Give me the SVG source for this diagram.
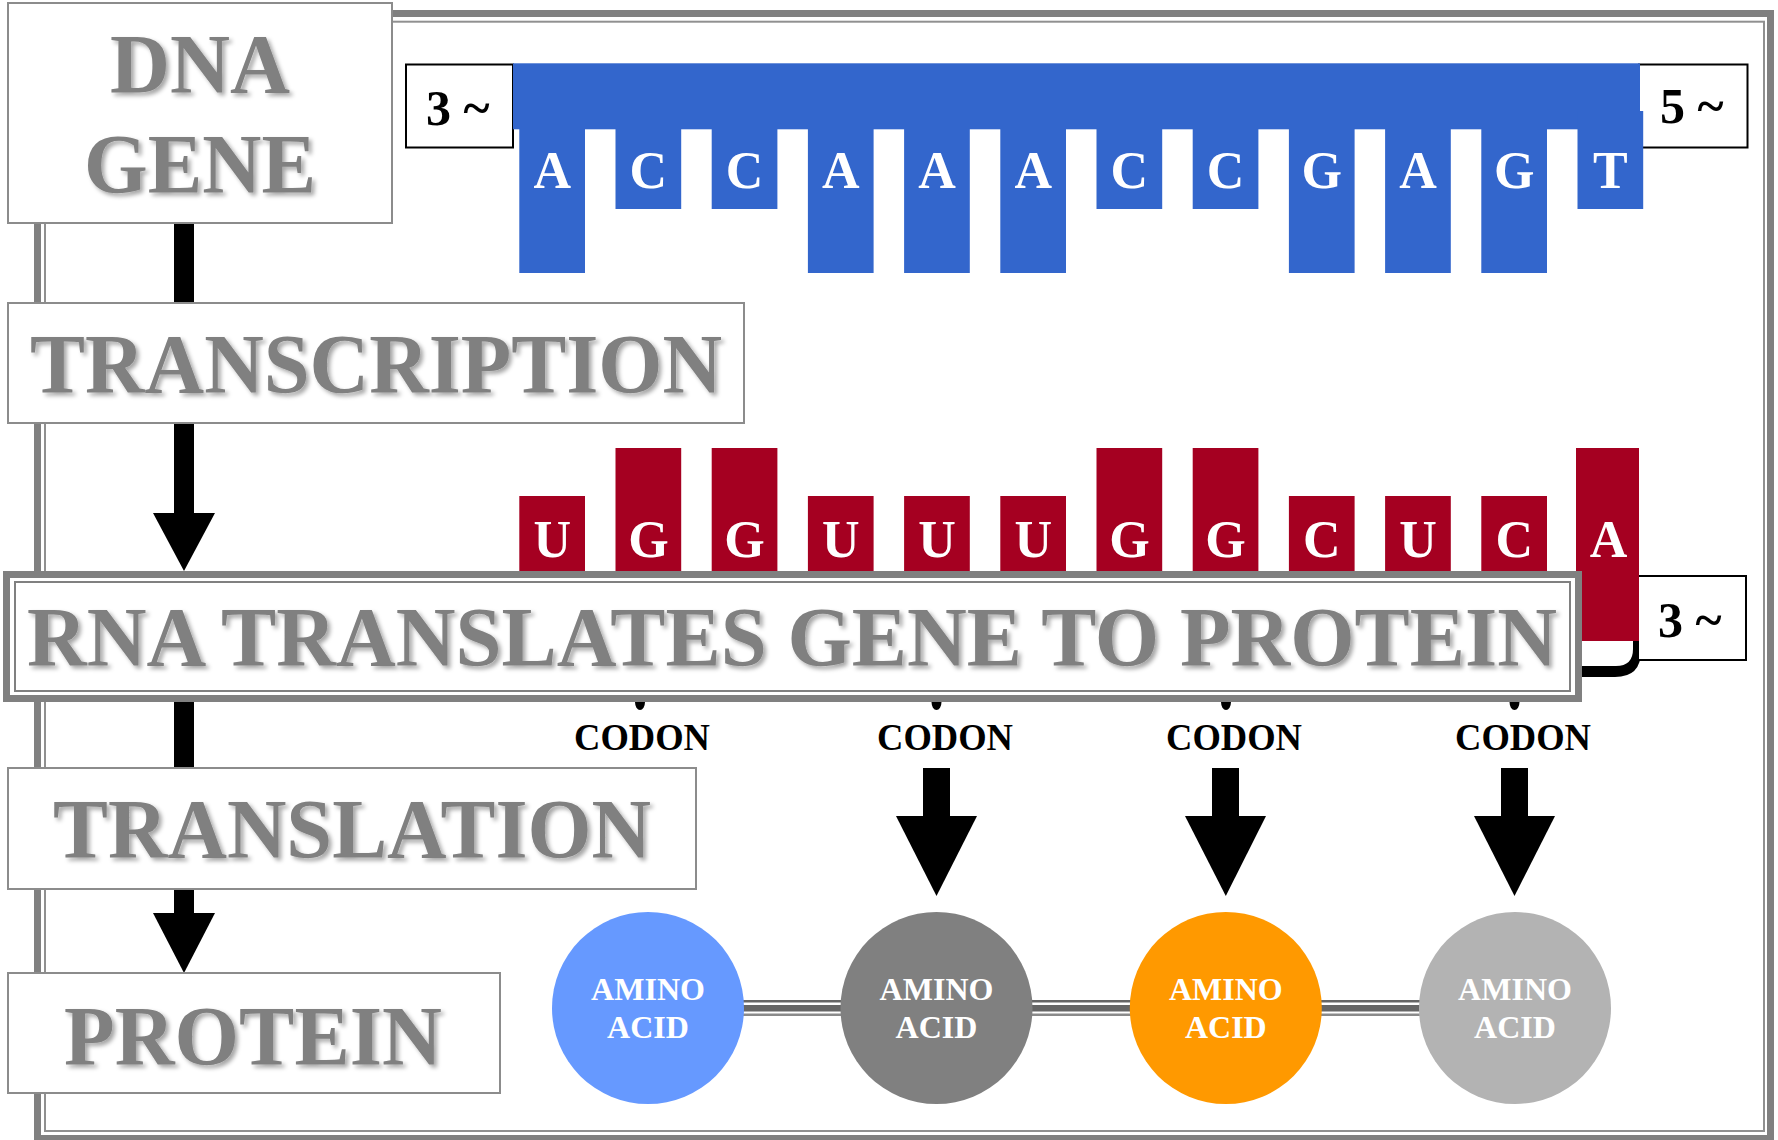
<svg xmlns="http://www.w3.org/2000/svg" width="1778" height="1140" viewBox="0 0 1778 1140">
<defs>
<style>
.big{font-family:"Liberation Serif","Times New Roman",serif;font-weight:bold;font-size:85px;fill:#808080;text-anchor:middle;filter:url(#sh)}
.box{fill:#fff;stroke:#8c8c8c;stroke-width:2}
.lbl{font-family:"Liberation Serif","Times New Roman",serif;font-weight:bold;font-size:50px;fill:#000}
.base{font-family:"Liberation Serif","Times New Roman",serif;font-weight:bold;font-size:52px;fill:#fff;text-anchor:middle}
.codon{font-family:"Liberation Serif","Times New Roman",serif;font-weight:bold;font-size:37px;fill:#000;text-anchor:middle}
.aa{font-family:"Liberation Serif","Times New Roman",serif;font-weight:bold;font-size:32px;fill:#fff;text-anchor:middle}
.dna{fill:#3366cc}
.rna{fill:#a50021}
.endbox{fill:#fff;stroke:#000;stroke-width:2}
</style>
<filter id="sh" x="-5%" y="-20%" width="110%" height="150%">
<feDropShadow dx="3" dy="3" stdDeviation="2" flood-color="#000" flood-opacity="0.35"/>
</filter>
</defs>
<rect width="1778" height="1140" fill="#fff"/>
<!-- outer frame -->
<g id="frame">
<rect x="37.5" y="13.5" width="1733" height="1125" fill="none" stroke="#808080" stroke-width="7"/>
<rect x="45" y="21.7" width="1719" height="1109.3" fill="none" stroke="#909090" stroke-width="2"/>
</g>
<!-- connectors -->
<g id="connectors">
<rect x="174" y="220" width="20" height="86" fill="#000"/>
<rect x="174" y="420" width="20" height="94" fill="#000"/>
<polygon points="153,513 215,513 184,571" fill="#000"/>
<rect x="174" y="700" width="20" height="70" fill="#000"/>
<rect x="174" y="886" width="20" height="28" fill="#000"/>
<polygon points="153,913 215,913 184,973" fill="#000"/>
<rect x="923" y="768" width="27" height="49" fill="#000"/>
<polygon points="896,816 977,816 936.5,896" fill="#000"/>
<rect x="1212" y="768" width="27" height="49" fill="#000"/>
<polygon points="1185,816 1266,816 1225.8,896" fill="#000"/>
<rect x="1501" y="768" width="27" height="49" fill="#000"/>
<polygon points="1474,816 1555,816 1514.5,896" fill="#000"/>
<g id="peptide-bonds">
<rect x="700" y="1000" width="860" height="2.5" fill="#666"/>
<rect x="700" y="1005" width="860" height="6.5" fill="#666"/>
<rect x="700" y="1013.5" width="860" height="2.5" fill="#8a8a8a"/>
</g>
</g>
<!-- DNA strand -->
<g id="dna-strand">
<rect class="endbox" x="406" y="64.5" width="107" height="83"/>
<text class="lbl" x="426" y="125">3 ~</text>
<rect class="endbox" x="1639" y="64.5" width="108.5" height="83"/>
<text class="lbl" x="1660" y="123">5 ~</text>
<rect class="dna" x="513" y="63.3" width="1127" height="66"/>
<rect class="dna" x="1577.5" y="111" width="65.7" height="98"/>
<rect class="dna" x="519.3" y="128" width="65.7" height="145"/>
<rect class="dna" x="615.5" y="128" width="65.7" height="81"/>
<rect class="dna" x="711.7" y="128" width="65.7" height="81"/>
<rect class="dna" x="807.9" y="128" width="65.7" height="145"/>
<rect class="dna" x="904.1" y="128" width="65.7" height="145"/>
<rect class="dna" x="1000.3" y="128" width="65.7" height="145"/>
<rect class="dna" x="1096.5" y="128" width="65.7" height="81"/>
<rect class="dna" x="1192.7" y="128" width="65.7" height="81"/>
<rect class="dna" x="1288.9" y="128" width="65.7" height="145"/>
<rect class="dna" x="1385.1" y="128" width="65.7" height="145"/>
<rect class="dna" x="1481.3" y="128" width="65.7" height="145"/>
<text class="base" x="552.2" y="188">A</text>
<text class="base" x="648.4" y="188">C</text>
<text class="base" x="744.6" y="188">C</text>
<text class="base" x="840.8" y="188">A</text>
<text class="base" x="937" y="188">A</text>
<text class="base" x="1033.2" y="188">A</text>
<text class="base" x="1129.4" y="188">C</text>
<text class="base" x="1225.6" y="188">C</text>
<text class="base" x="1321.8" y="188">G</text>
<text class="base" x="1418" y="188">A</text>
<text class="base" x="1514.2" y="188">G</text>
<text class="base" x="1610.4" y="188">T</text>
</g>
<!-- RNA strand -->
<g id="rna-strand">
<path d="M1582,677 H1615 Q1641,677 1641,651 V641 H1633 V649 Q1633,666 1616,666 H1582 Z" fill="#000"/>
<rect class="rna" x="519.3" y="496" width="65.7" height="145"/>
<rect class="rna" x="615.5" y="448" width="65.7" height="193"/>
<rect class="rna" x="711.7" y="448" width="65.7" height="193"/>
<rect class="rna" x="807.9" y="496" width="65.7" height="145"/>
<rect class="rna" x="904.1" y="496" width="65.7" height="145"/>
<rect class="rna" x="1000.3" y="496" width="65.7" height="145"/>
<rect class="rna" x="1096.5" y="448" width="65.7" height="193"/>
<rect class="rna" x="1192.7" y="448" width="65.7" height="193"/>
<rect class="rna" x="1288.9" y="496" width="65.7" height="145"/>
<rect class="rna" x="1385.1" y="496" width="65.7" height="145"/>
<rect class="rna" x="1481.3" y="496" width="65.7" height="145"/>
<rect class="endbox" x="1638" y="576" width="108" height="84"/>
<rect class="rna" x="1576" y="448" width="63" height="193"/>
<text class="lbl" x="1658" y="637">3 ~</text>
<text class="base" x="552.2" y="557">U</text>
<text class="base" x="648.4" y="557">G</text>
<text class="base" x="744.6" y="557">G</text>
<text class="base" x="840.8" y="557">U</text>
<text class="base" x="937" y="557">U</text>
<text class="base" x="1033.2" y="557">U</text>
<text class="base" x="1129.4" y="557">G</text>
<text class="base" x="1225.6" y="557">G</text>
<text class="base" x="1321.8" y="557">C</text>
<text class="base" x="1418" y="557">U</text>
<text class="base" x="1514.2" y="557">C</text>
<text class="base" x="1608.5" y="557">A</text>
</g>
<!-- process boxes -->
<g id="dna-gene">
<rect class="box" x="8" y="3" width="384" height="220"/>
<text class="big" x="200" y="93" textLength="180" lengthAdjust="spacingAndGlyphs">DNA</text>
<text class="big" x="200" y="193" textLength="232" lengthAdjust="spacingAndGlyphs">GENE</text>
</g>
<g id="transcription">
<rect class="box" x="8" y="303" width="736" height="120"/>
<text class="big" x="376" y="393" textLength="692" lengthAdjust="spacingAndGlyphs">TRANSCRIPTION</text>
</g>
<g id="banner">
<rect x="6.5" y="574.5" width="1572" height="124" fill="#fff" stroke="#808080" stroke-width="7"/>
<rect x="15" y="582" width="1555" height="109" fill="none" stroke="#808080" stroke-width="2"/>
<text class="big" x="792" y="666" textLength="1530" lengthAdjust="spacingAndGlyphs">RNA TRANSLATES GENE TO PROTEIN</text>
</g>
<g id="codons">
<path d="M635,702 A5,8 0 0 0 645,702 Z" fill="#000"/>
<path d="M931.5,702 A5,8 0 0 0 941.5,702 Z" fill="#000"/>
<path d="M1221,702 A5,8 0 0 0 1231,702 Z" fill="#000"/>
<path d="M1509.5,702 A5,8 0 0 0 1519.5,702 Z" fill="#000"/>
<text class="codon" x="642" y="750" textLength="136" lengthAdjust="spacingAndGlyphs">CODON</text>
<text class="codon" x="945" y="750" textLength="136" lengthAdjust="spacingAndGlyphs">CODON</text>
<text class="codon" x="1234" y="750" textLength="136" lengthAdjust="spacingAndGlyphs">CODON</text>
<text class="codon" x="1523" y="750" textLength="136" lengthAdjust="spacingAndGlyphs">CODON</text>
</g>
<g id="translation">
<rect class="box" x="8" y="768" width="688" height="121"/>
<text class="big" x="352" y="858" textLength="598" lengthAdjust="spacingAndGlyphs">TRANSLATION</text>
</g>
<g id="protein">
<rect class="box" x="8" y="973" width="492" height="120"/>
<text class="big" x="253" y="1065" textLength="378" lengthAdjust="spacingAndGlyphs">PROTEIN</text>
</g>
<g id="amino-acid-1">
<circle cx="648" cy="1008" r="96" fill="#6699ff"/>
<text class="aa" x="648" y="1000">AMINO</text>
<text class="aa" x="648" y="1038">ACID</text>
</g>
<g id="amino-acid-2">
<circle cx="936.5" cy="1008" r="96" fill="#808080"/>
<text class="aa" x="936.5" y="1000">AMINO</text>
<text class="aa" x="936.5" y="1038">ACID</text>
</g>
<g id="amino-acid-3">
<circle cx="1225.8" cy="1008" r="96" fill="#ff9900"/>
<text class="aa" x="1225.8" y="1000">AMINO</text>
<text class="aa" x="1225.8" y="1038">ACID</text>
</g>
<g id="amino-acid-4">
<circle cx="1515" cy="1008" r="96" fill="#b3b3b3"/>
<text class="aa" x="1515" y="1000">AMINO</text>
<text class="aa" x="1515" y="1038">ACID</text>
</g>
</svg>
